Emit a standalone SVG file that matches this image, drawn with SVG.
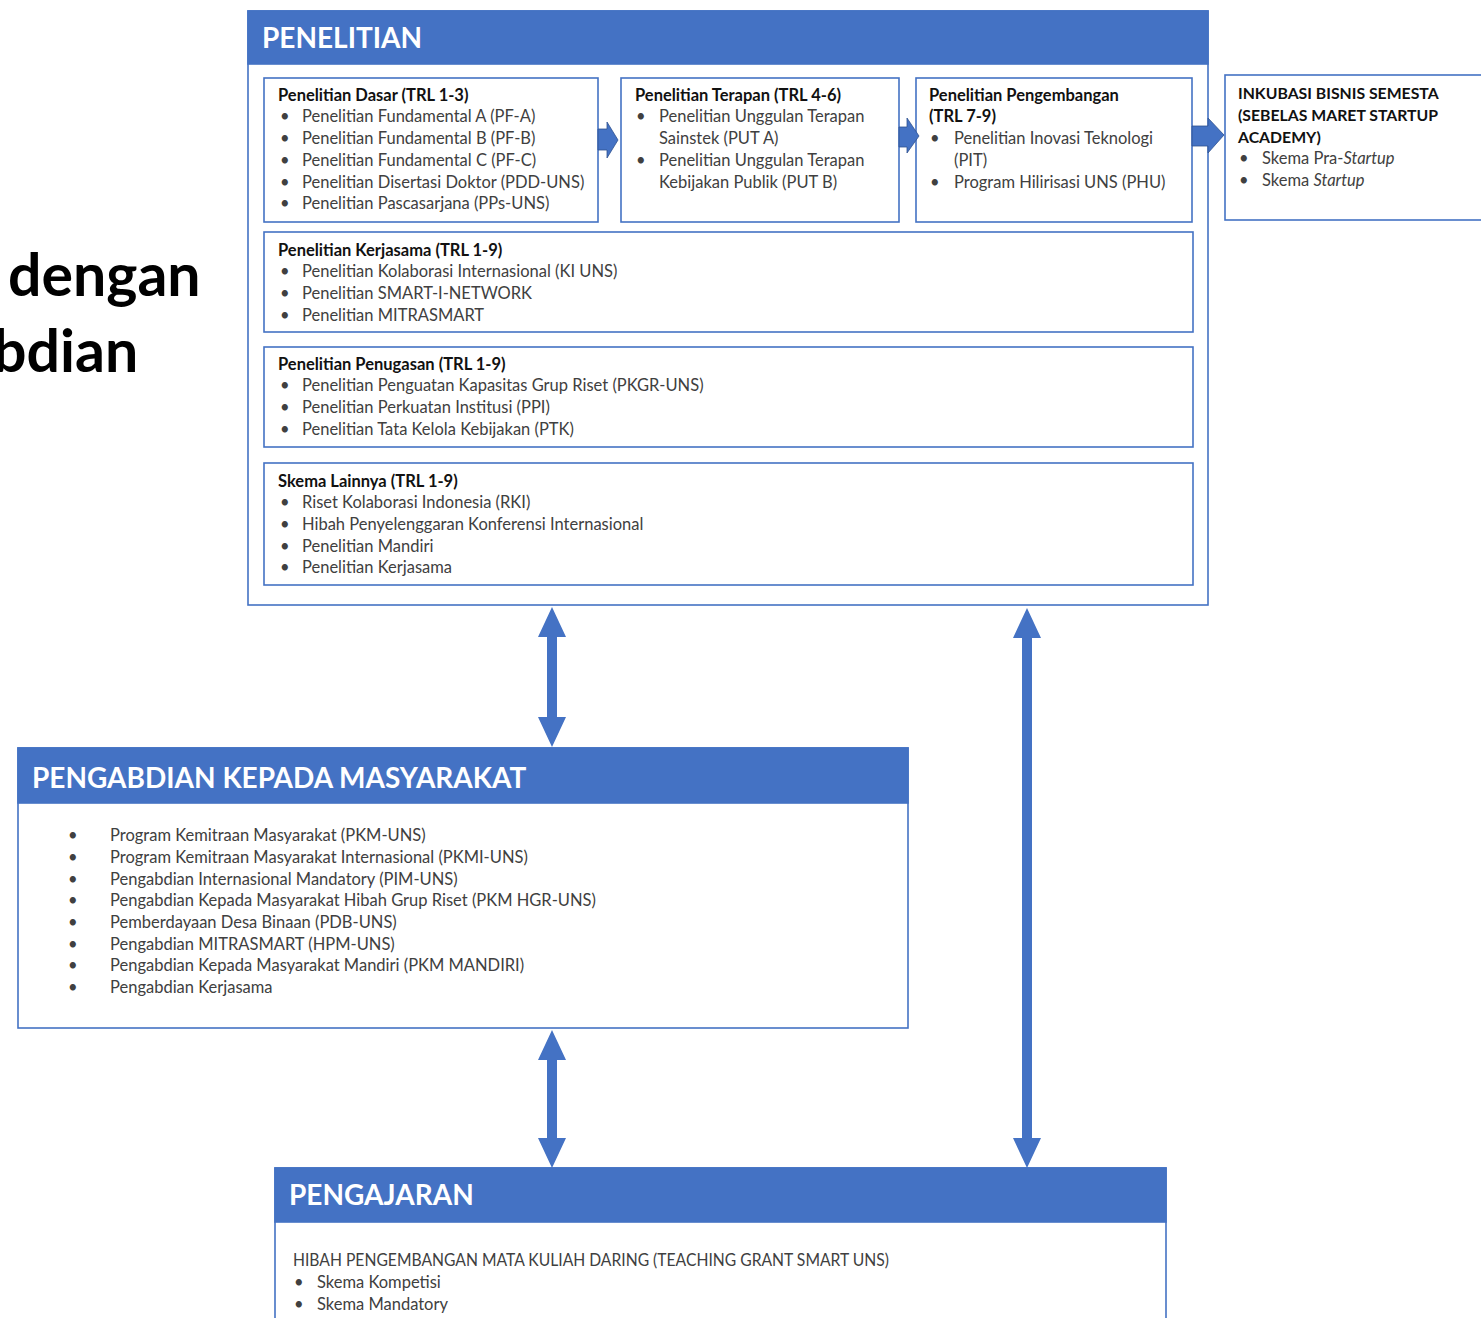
<svg xmlns="http://www.w3.org/2000/svg" width="1481" height="1318" viewBox="0 0 1481 1318">
<style>
.box{fill:#fff;stroke:#4472C4;stroke-width:1.6}
.hdr{fill:#4472C4;stroke:#4472C4;stroke-width:1.6}
.ht{font-family:Lato,"Liberation Sans",sans-serif;font-weight:bold;font-size:28px;fill:#fff}
.t{font-family:Lato,"Liberation Sans",sans-serif;font-size:16.5px;fill:#404040}
.b{font-family:Lato,"Liberation Sans",sans-serif;font-size:16.5px;font-weight:bold;fill:#111}
.bc{font-family:Lato,"Liberation Sans",sans-serif;font-size:15.8px;font-weight:bold;fill:#111}
.big{font-family:Lato,"Liberation Sans",sans-serif;font-size:59px;font-weight:bold;fill:#000}
.arr{fill:#4472C4;stroke:#2F528F;stroke-width:0.8}
.va{fill:#4472C4}
</style>

<g id="side-title">
<text class="big" x="8" y="296">dengan</text>
<text class="big" x="-7" y="372">bdian</text>
</g>

<g id="penelitian">
<rect class="box" x="248" y="11" width="960" height="594"/>
<rect class="hdr" x="248" y="11" width="960" height="53"/>
<text class="ht" x="262" y="48">PENELITIAN</text>
</g>

<g id="dasar">
<rect class="box" x="264" y="78" width="334" height="144"/>
<text class="b" x="278" y="101">Penelitian Dasar (TRL 1-3)</text>
<g class="t">
<text x="280" y="122">•</text><text x="302" y="122">Penelitian Fundamental A (PF-A)</text>
<text x="280" y="144">•</text><text x="302" y="144">Penelitian Fundamental B (PF-B)</text>
<text x="280" y="166">•</text><text x="302" y="166">Penelitian Fundamental C (PF-C)</text>
<text x="280" y="188">•</text><text x="302" y="188">Penelitian Disertasi Doktor (PDD-UNS)</text>
<text x="280" y="209">•</text><text x="302" y="209">Penelitian Pascasarjana (PPs-UNS)</text>
</g>
</g>

<g id="terapan">
<rect class="box" x="621" y="78" width="278" height="144"/>
<text class="b" x="635" y="101">Penelitian Terapan (TRL 4-6)</text>
<g class="t">
<text x="636" y="122">•</text><text x="659" y="122">Penelitian Unggulan Terapan</text>
<text x="659" y="144">Sainstek (PUT A)</text>
<text x="636" y="166">•</text><text x="659" y="166">Penelitian Unggulan Terapan</text>
<text x="659" y="188">Kebijakan Publik (PUT B)</text>
</g>
</g>

<g id="pengembangan">
<rect class="box" x="916" y="78" width="276" height="144"/>
<text class="b" x="929" y="101">Penelitian Pengembangan</text>
<text class="b" x="929" y="122">(TRL 7-9)</text>
<g class="t">
<text x="930" y="144">•</text><text x="954" y="144">Penelitian Inovasi Teknologi</text>
<text x="954" y="166">(PIT)</text>
<text x="930" y="188">•</text><text x="954" y="188">Program Hilirisasi UNS (PHU)</text>
</g>
</g>

<g id="inkubasi">
<rect class="box" x="1225" y="75" width="270" height="145"/>
<text class="bc" x="1238" y="99">INKUBASI BISNIS SEMESTA</text>
<text class="bc" x="1238" y="121">(SEBELAS MARET STARTUP</text>
<text class="bc" x="1238" y="143">ACADEMY)</text>
<g class="t">
<text x="1239" y="164">•</text><text x="1262" y="164">Skema Pra-<tspan font-style="italic">Startup</tspan></text>
<text x="1239" y="186">•</text><text x="1262" y="186">Skema <tspan font-style="italic">Startup</tspan></text>
</g>
</g>

<g id="kerjasama">
<rect class="box" x="264" y="232" width="929" height="100"/>
<text class="b" x="278" y="256">Penelitian Kerjasama (TRL 1-9)</text>
<g class="t">
<text x="280" y="277">•</text><text x="302" y="277">Penelitian Kolaborasi Internasional (KI UNS)</text>
<text x="280" y="299">•</text><text x="302" y="299">Penelitian SMART-I-NETWORK</text>
<text x="280" y="321">•</text><text x="302" y="321">Penelitian MITRASMART</text>
</g>
</g>

<g id="penugasan">
<rect class="box" x="264" y="347" width="929" height="100"/>
<text class="b" x="278" y="370">Penelitian Penugasan (TRL 1-9)</text>
<g class="t">
<text x="280" y="391">•</text><text x="302" y="391">Penelitian Penguatan Kapasitas Grup Riset (PKGR-UNS)</text>
<text x="280" y="413">•</text><text x="302" y="413">Penelitian Perkuatan Institusi (PPI)</text>
<text x="280" y="435">•</text><text x="302" y="435">Penelitian Tata Kelola Kebijakan (PTK)</text>
</g>
</g>

<g id="lainnya">
<rect class="box" x="264" y="463" width="929" height="122"/>
<text class="b" x="278" y="487">Skema Lainnya (TRL 1-9)</text>
<g class="t">
<text x="280" y="508">•</text><text x="302" y="508">Riset Kolaborasi Indonesia (RKI)</text>
<text x="280" y="530">•</text><text x="302" y="530">Hibah Penyelenggaran Konferensi Internasional</text>
<text x="280" y="552">•</text><text x="302" y="552">Penelitian Mandiri</text>
<text x="280" y="573">•</text><text x="302" y="573">Penelitian Kerjasama</text>
</g>
</g>

<g id="pkm">
<rect class="box" x="18" y="748" width="890" height="280"/>
<rect class="hdr" x="18" y="748" width="890" height="55"/>
<text class="ht" x="32" y="788">PENGABDIAN KEPADA MASYARAKAT</text>
<g class="t">
<text x="68" y="841">•</text><text x="110" y="841">Program Kemitraan Masyarakat (PKM-UNS)</text>
<text x="68" y="863">•</text><text x="110" y="863">Program Kemitraan Masyarakat Internasional (PKMI-UNS)</text>
<text x="68" y="885">•</text><text x="110" y="885">Pengabdian Internasional Mandatory (PIM-UNS)</text>
<text x="68" y="906">•</text><text x="110" y="906">Pengabdian Kepada Masyarakat Hibah Grup Riset (PKM HGR-UNS)</text>
<text x="68" y="928">•</text><text x="110" y="928">Pemberdayaan Desa Binaan (PDB-UNS)</text>
<text x="68" y="950">•</text><text x="110" y="950">Pengabdian MITRASMART (HPM-UNS)</text>
<text x="68" y="971">•</text><text x="110" y="971">Pengabdian Kepada Masyarakat Mandiri (PKM MANDIRI)</text>
<text x="68" y="993">•</text><text x="110" y="993">Pengabdian Kerjasama</text>
</g>
</g>

<g id="pengajaran">
<rect class="box" x="275" y="1168" width="891" height="160"/>
<rect class="hdr" x="275" y="1168" width="891" height="54"/>
<text class="ht" x="289" y="1205">PENGAJARAN</text>
<g class="t">
<text x="293" y="1266" textLength="596" lengthAdjust="spacingAndGlyphs">HIBAH PENGEMBANGAN MATA KULIAH DARING (TEACHING GRANT SMART UNS)</text>
<text x="294" y="1288">•</text><text x="317" y="1288">Skema Kompetisi</text>
<text x="294" y="1310">•</text><text x="317" y="1310">Skema Mandatory</text>
</g>
</g>

<g id="connectors">
<path class="arr" d="M598,129 H607 V122 L618,140 L607,158 V150 H598 Z"/>
<path class="arr" d="M899,127 H907 V118 L919,136 L907,153 V147 H899 Z"/>
<path class="arr" d="M1192,126 H1208 V118 L1224,135 L1208,153 V146 H1192 Z"/>
<path class="va" d="M552,607 L566,637 H557 V717 H566 L552,747 L538,717 H547 V637 H538 Z"/>
<path class="va" d="M1027,608 L1041,638 H1032 V1138 H1041 L1027,1168 L1013,1138 H1022 V638 H1013 Z"/>
<path class="va" d="M552,1030 L566,1060 H557 V1138 H566 L552,1168 L538,1138 H547 V1060 H538 Z"/>
</g>
</svg>
